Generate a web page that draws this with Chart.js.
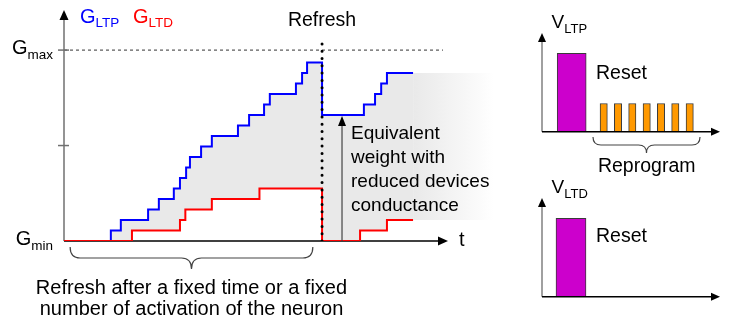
<!DOCTYPE html>
<html>
<head>
<meta charset="utf-8">
<script src="https://cdn.jsdelivr.net/npm/chart.js@4.4.0/dist/chart.umd.min.js"></script>
<style>
  body { margin: 0; background: #fff; }
  #wrap { position: relative; width: 731px; height: 322px; }
  #wrap canvas { position: absolute; }
</style>
</head>
<body>
<div id="wrap">
  <canvas id="g-chart" width="731" height="322" style="left:0;top:0"></canvas>
  <canvas id="vltp-chart" width="231" height="180" style="left:500px;top:0"></canvas>
  <canvas id="vltd-chart" width="231" height="157" style="left:500px;top:165px"></canvas>
</div>
<script>
// conductance steps: t in arbitrary time units, G in % of Gmax
const ltpT = [0, 12.2, 14.8, 21.9, 24.7, 28.6, 30.2, 31.8, 32.8, 35.7, 38.5, 45.3, 48.2, 52.1, 53.6, 60.4, 62.0, 63.3, 67.2, 78.1, 81.0, 82.6, 84.1, 90.9];
const ltpG = [0, 5.5, 11, 16.5, 22, 27.5, 33, 38.5, 44, 49.5, 55, 60.5, 66, 71.5, 77, 82.5, 88, 93.5, 66, 71.5, 77, 82.5, 88, 88];
const ltdT = [0, 17.7, 30.2, 31.6, 38.5, 50.9, 67.2, 77.1, 84.1, 90.9];
const ltdG = [0, 5.5, 11, 16.5, 22, 27.5, 0, 5.5, 11, 11];

const refreshT = 67.2;     // refresh instant
const weightT = 72.4;      // where the equivalent weight arrow sits
const fadeEnd = 112;       // shaded area fades out here
const gTicks = [0, 50, 100];
const gTickLabels = ['min', '', 'max'];

// programming pulses: t in arbitrary units, amplitude relative to reset pulse
const ltpResetT = [29.7];
const ltpResetV = [1];
const ltpProgT = [61.7, 76.0, 90.3, 104.7, 119.0, 133.3, 147.7];
const ltpProgV = [0.36, 0.36, 0.36, 0.36, 0.36, 0.36, 0.36];
const ltdResetT = [29];
const ltdResetV = [1];

const FONT = '"Liberation Sans", Arial, sans-serif';
const BLUE = '#0000ff';
const RED = '#ff0000';
const SHADE = '#e9e9e9';

function pts(ts, vs) {
	return ts.map((t, i) => ({ x: t, y: vs[i] }));
}

function font(size) {
	return size + 'px ' + FONT;
}

// letter with a subscript, e.g. G_max
function subText(ctx, x, y, main, sub, color, size, subSize, dy, align) {
	ctx.font = font(size);
	const w1 = ctx.measureText(main).width;
	ctx.font = font(subSize);
	const w2 = ctx.measureText(sub).width;
	if (align === 'right') x -= w1 + w2;
	ctx.textAlign = 'left';
	ctx.textBaseline = 'alphabetic';
	ctx.fillStyle = color;
	ctx.font = font(size);
	ctx.fillText(main, x, y);
	ctx.font = font(subSize);
	ctx.fillText(sub, x + w1, y + dy);
}

function arrowHead(ctx, tx, ty, dx, dy, len, half) {
	const bx = tx - dx * len;
	const by = ty - dy * len;
	ctx.beginPath();
	ctx.moveTo(tx, ty);
	ctx.lineTo(bx - dy * half, by + dx * half);
	ctx.lineTo(bx + dy * half, by - dx * half);
	ctx.closePath();
	ctx.fillStyle = '#000';
	ctx.fill();
}

// horizontal curly brace, tip pointing down
function brace(ctx, x1, x2, yTop, yTip, r) {
	const xm = (x1 + x2) / 2;
	const ym = (yTop + yTip) / 2;
	ctx.beginPath();
	ctx.moveTo(x1, yTop);
	ctx.quadraticCurveTo(x1, ym, x1 + r, ym);
	ctx.lineTo(xm - r, ym);
	ctx.quadraticCurveTo(xm, ym, xm, yTip);
	ctx.moveTo(x2, yTop);
	ctx.quadraticCurveTo(x2, ym, x2 - r, ym);
	ctx.lineTo(xm + r, ym);
	ctx.quadraticCurveTo(xm, ym, xm, yTip);
	ctx.stroke();
}

function centerText(ctx, lines, x, y, step, size) {
	ctx.font = font(size);
	ctx.fillStyle = '#000';
	ctx.textAlign = 'center';
	ctx.textBaseline = 'alphabetic';
	lines.forEach((s, i) => ctx.fillText(s, x, y + i * step));
}

// --- conductance vs time --- //
const lineEnd = ltpT[ltpT.length - 1];
const ltpData = pts(ltpT, ltpG).concat({ x: fadeEnd, y: ltpG[ltpG.length - 1] });
const ltdData = pts(ltdT, ltdG).concat({ x: fadeEnd, y: ltdG[ltdG.length - 1] });
const hideTail = (c) => (c.p0.parsed.x >= lineEnd ? 'rgba(0,0,0,0)' : undefined);

// fill between G_LTP and G_LTD fades out past the last step
function shadeGradient(chart) {
	const xs = chart.scales.x;
	const g = chart.ctx.createLinearGradient(xs.getPixelForValue(lineEnd), 0, xs.getPixelForValue(fadeEnd), 0);
	g.addColorStop(0, SHADE);
	g.addColorStop(0.6, '#f6f6f6');
	g.addColorStop(1, '#ffffff');
	return g;
}

const gAxes = {
	id: 'gAxes',
	beforeDatasetsDraw(chart) {
		const { ctx, scales: { x, y } } = chart;
		const x0 = x.getPixelForValue(0);
		const y0 = y.getPixelForValue(0);
		const yMax = y.getPixelForValue(100);
		ctx.save();
		ctx.strokeStyle = '#333';
		ctx.lineWidth = 1;
		ctx.setLineDash([3, 3]);
		ctx.beginPath();
		ctx.moveTo(x0, yMax);
		ctx.lineTo(x.getPixelForValue(98.7), yMax);
		ctx.stroke();
		ctx.setLineDash([]);

		ctx.strokeStyle = '#707070';
		ctx.lineWidth = 1.5;
		ctx.beginPath();
		ctx.moveTo(x0, y0);
		ctx.lineTo(x0, y.top + 8);
		ctx.stroke();
		arrowHead(ctx, x0, y.top, 0, -1, 10, 4.5);

		gTicks.slice(1).forEach((v) => {
			const py = y.getPixelForValue(v);
			ctx.beginPath();
			ctx.moveTo(x0 - 6, py);
			ctx.lineTo(x0 + 5, py);
			ctx.stroke();
		});

		const xEnd = x.getPixelForValue(100);
		ctx.strokeStyle = '#000';
		ctx.beginPath();
		ctx.moveTo(x0, y0);
		ctx.lineTo(xEnd - 8, y0);
		ctx.stroke();
		arrowHead(ctx, xEnd, y0, 1, 0, 10, 4.5);
		ctx.restore();
	},
	afterDatasetsDraw(chart) {
		const { ctx, scales: { x, y } } = chart;
		const x0 = x.getPixelForValue(0);
		const y0 = y.getPixelForValue(0);
		ctx.save();

		gTicks.forEach((v, i) => {
			if (!gTickLabels[i]) return;
			subText(ctx, x0 - 11, y.getPixelForValue(v) + 4, 'G', gTickLabels[i], '#000', 20, 13.5, 4.5, 'right');
		});
		subText(ctx, 80, 23, 'G', 'LTP', BLUE, 20, 13.5, 4);
		subText(ctx, 133, 23, 'G', 'LTD', RED, 20, 13.5, 4);

		ctx.font = font(20);
		ctx.fillStyle = '#000';
		ctx.textAlign = 'left';
		ctx.fillText('t', 459, y0 + 5);
		centerText(ctx, ['Refresh'], x.getPixelForValue(refreshT), 26, 0, 19.5);

		// equivalent weight arrow
		const ax = x.getPixelForValue(weightT);
		const aTop = y.getPixelForValue(ltpG[ltpT.indexOf(refreshT)]) + 1;
		ctx.strokeStyle = '#444';
		ctx.lineWidth = 1.2;
		ctx.beginPath();
		ctx.moveTo(ax, y0);
		ctx.lineTo(ax, aTop + 8);
		ctx.stroke();
		arrowHead(ctx, ax, aTop, 0, -1, 10, 4);

		ctx.font = font(19);
		ctx.fillStyle = '#000';
		ctx.textAlign = 'left';
		['Equivalent', 'weight with', 'reduced devices', 'conductance'].forEach((s, i) => {
			ctx.fillText(s, ax + 9, 139 + i * 24);
		});

		ctx.strokeStyle = '#444';
		ctx.lineWidth = 1.2;
		const b1 = x.getPixelForValue(1.6);
		const b2 = x.getPixelForValue(64.8);
		brace(ctx, b1, b2, y0 + 6, y0 + 28, 10);
		centerText(ctx, ['Refresh after a fixed time or a fixed', 'number of activation of the neuron'], (b1 + b2) / 2, 294, 20.5, 20);
		ctx.restore();
	},
};

new Chart(document.getElementById('g-chart'), {
	type: 'line',
	data: {
		datasets: [
			{
				// refresh marker
				data: [{ x: refreshT, y: 0 }, { x: refreshT, y: 106 }],
				borderColor: '#000',
				borderWidth: 3,
				borderDash: [0, 7.3],
				borderCapStyle: 'round',
				pointRadius: 0,
				fill: false,
			},
			{
				data: ltdData,
				borderColor: RED,
				borderWidth: 2,
				stepped: 'before',
				pointRadius: 0,
				fill: false,
				segment: { borderColor: hideTail },
			},
			{
				data: ltpData,
				borderColor: BLUE,
				borderWidth: 2,
				stepped: 'before',
				pointRadius: 0,
				fill: '-1',
				backgroundColor: (c) => (c.chart.chartArea ? shadeGradient(c.chart) : SHADE),
				segment: { borderColor: hideTail },
			},
		],
	},
	options: {
		responsive: false,
		animation: false,
		events: [],
		layout: { padding: { left: 64, right: 225.4, top: 10, bottom: 81 } },
		scales: {
			x: { type: 'linear', min: 0, max: 115, display: false },
			y: { min: 0, max: 121, display: false },
		},
		plugins: {
			legend: { display: false },
			tooltip: { enabled: false },
		},
	},
	plugins: [gAxes],
});

// --- pulse trains --- //
function pulseAxes(sub, notes) {
	return {
		id: 'pulseAxes',
		afterDatasetsDraw(chart) {
			const { ctx, chartArea: a } = chart;
			ctx.save();
			ctx.strokeStyle = '#808080';
			ctx.lineWidth = 1.5;
			ctx.beginPath();
			ctx.moveTo(a.left, a.bottom);
			ctx.lineTo(a.left, a.top + 8);
			ctx.stroke();
			arrowHead(ctx, a.left, a.top, 0, -1, 9, 4);
			ctx.strokeStyle = '#000';
			ctx.beginPath();
			ctx.moveTo(a.left, a.bottom);
			ctx.lineTo(a.right - 8, a.bottom);
			ctx.stroke();
			arrowHead(ctx, a.right, a.bottom, 1, 0, 9, 4);

			subText(ctx, 51.5, 27.5, 'V', sub, '#000', 19, 13, 5);
			ctx.font = font(19.5);
			ctx.fillStyle = '#000';
			ctx.textAlign = 'left';
			ctx.fillText('Reset', 96, notes.resetY);
			if (notes.brace) {
				ctx.strokeStyle = '#444';
				ctx.lineWidth = 1.2;
				brace(ctx, 93, 200, 137, 153, 8);
				centerText(ctx, ['Reprogram'], 146.7, 172.3, 0, 19.5);
			}
			ctx.restore();
		},
	};
}

function pulseChart(id, datasets, padBottom, axes) {
	return new Chart(document.getElementById(id), {
		type: 'bar',
		data: { datasets },
		options: {
			responsive: false,
			animation: false,
			events: [],
			layout: { padding: { left: 42, right: 11, top: 33, bottom: padBottom } },
			scales: {
				x: { type: 'linear', min: 0, max: 178, offset: false, display: false },
				y: { min: 0, max: 1.26, display: false },
			},
			plugins: {
				legend: { display: false },
				tooltip: { enabled: false },
			},
		},
		plugins: [axes],
	});
}

function bars(ts, vs, color, thickness) {
	return {
		data: pts(ts, vs),
		backgroundColor: color,
		borderColor: '#3a3a3a',
		borderWidth: 1,
		barThickness: thickness,
		grouped: false,
	};
}

pulseChart('vltp-chart', [
	bars(ltpResetT, ltpResetV, '#cc00cc', 29),
	bars(ltpProgT, ltpProgV, '#ff9900', 7.3),
], 48.3, pulseAxes('LTP', { resetY: 79, brace: true }));

pulseChart('vltd-chart', [
	bars(ltdResetT, ltdResetV, '#cc00cc', 30),
], 25.3, pulseAxes('LTD', { resetY: 77.3, brace: false }));
</script>
</body>
</html>
